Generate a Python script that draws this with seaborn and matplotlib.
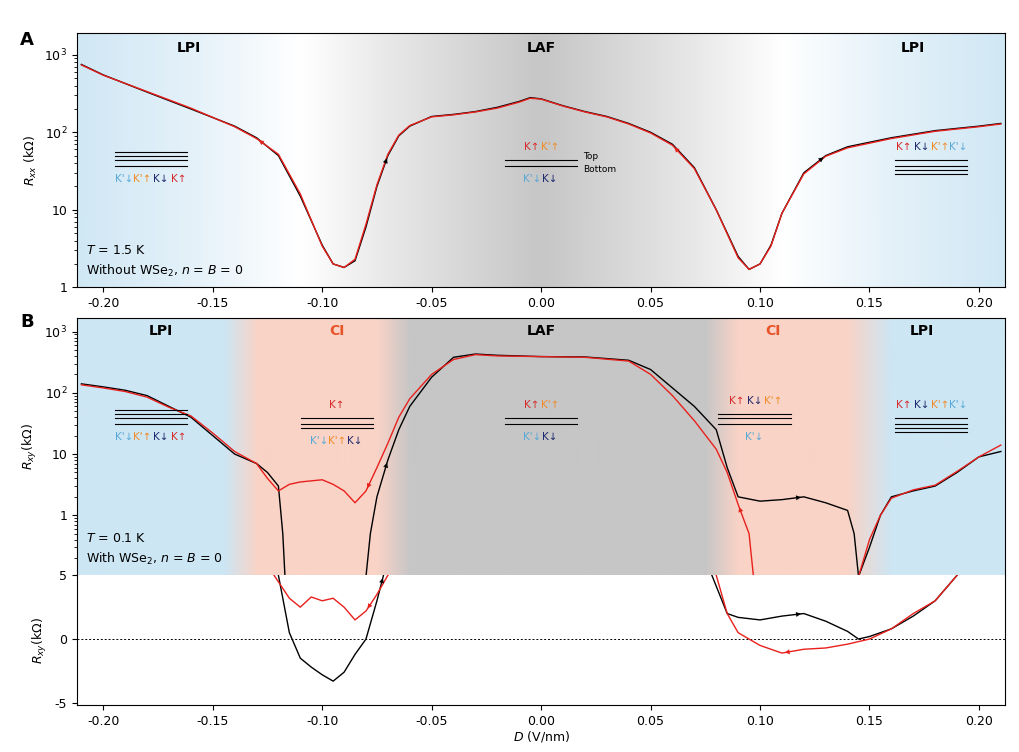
import numpy as np
import pandas as pd
import matplotlib
matplotlib.use("Agg")
import matplotlib.pyplot as plt
import seaborn as sns
from matplotlib.colors import to_rgb

# ---------------- data ----------------
a_D = [-0.21,-0.20,-0.18,-0.16,-0.14,-0.13,-0.12,-0.11,-0.10,-0.095,-0.09,-0.085,-0.08,-0.075,-0.07,-0.065,-0.06,-0.05,-0.04,-0.03,-0.02,-0.01,-0.005,0.0,0.01,0.02,0.03,0.04,0.05,0.06,0.07,0.08,0.09,0.095,0.10,0.105,0.11,0.12,0.13,0.14,0.16,0.18,0.20,0.21]
a_black = [750,550,330,200,120,85,50,15,3.5,2.0,1.8,2.2,6,20,50,90,120,160,170,185,210,250,280,270,220,185,160,130,100,70,35,10,2.5,1.7,2.0,3.5,9,30,50,65,85,105,120,130]
a_red = [740,545,335,205,118,83,52,16,3.4,2.0,1.8,2.3,6.5,21,52,92,122,158,168,183,205,245,275,268,218,183,158,128,98,68,34,10,2.4,1.7,2.0,3.4,9,29,49,63,83,103,118,128]

b_D_left_black = [-0.21,-0.20,-0.19,-0.18,-0.17,-0.16,-0.15,-0.14,-0.13,-0.125,-0.12,-0.118,-0.117]
b_left_black = [140,125,110,90,60,40,20,10,7,5,3,0.5,0.1]
b_D_left_red = [-0.21,-0.20,-0.19,-0.18,-0.17,-0.16,-0.15,-0.14,-0.13,-0.125,-0.12,-0.115,-0.11,-0.10,-0.095,-0.09,-0.085,-0.08,-0.075,-0.07,-0.065,-0.06,-0.05,-0.04,-0.03,-0.02,0.0,0.02,0.04,0.05,0.06,0.07,0.08,0.085,0.09,0.095,0.097]
b_left_red = [135,120,105,85,58,42,22,11,7,4,2.5,3.2,3.5,3.8,3.2,2.5,1.6,2.5,6,15,40,80,200,350,420,400,390,380,330,200,90,35,12,5,1.5,0.5,0.1]
b_D_mid_black = [-0.08,-0.078,-0.075,-0.07,-0.065,-0.06,-0.05,-0.04,-0.03,-0.02,0.0,0.02,0.04,0.05,0.06,0.07,0.08,0.085,0.09,0.10,0.11,0.12,0.13,0.14,0.143,0.145,0.15,0.155,0.16,0.17,0.18,0.19,0.20,0.21]
b_mid_black = [0.1,0.5,2.0,8,25,60,180,380,430,410,390,385,340,240,120,60,25,6,2.0,1.7,1.8,2.0,1.6,1.2,0.5,0.1,0.3,1.0,2.0,2.5,3.0,5,9,11]
b_D_right_red = [0.145,0.15,0.155,0.16,0.17,0.18,0.19,0.20,0.21]
b_right_red = [0.1,0.4,1.0,1.9,2.6,3.1,5.2,9,14]

c_D_left_black = [-0.12,-0.115,-0.11,-0.105,-0.10,-0.095,-0.09,-0.085,-0.08,-0.075,-0.072]
c_left_black = [5,0.5,-1.5,-2.2,-2.8,-3.3,-2.6,-1.2,0,3,5]
c_D_left_red = [-0.122,-0.115,-0.11,-0.105,-0.10,-0.095,-0.09,-0.085,-0.08,-0.075,-0.07]
c_left_red = [5,3.2,2.5,3.3,3.0,3.2,2.5,1.5,2.2,3.5,5]
c_D_right_black = [0.078,0.085,0.09,0.10,0.11,0.12,0.13,0.14,0.145,0.15,0.16,0.17,0.18,0.19]
c_right_black = [5,2.0,1.7,1.5,1.8,2.0,1.4,0.6,0.0,0.2,0.8,1.8,3.0,5]
c_D_right_red = [0.08,0.085,0.09,0.10,0.11,0.12,0.13,0.14,0.15,0.16,0.17,0.18,0.19]
c_right_red = [5,2.0,0.5,-0.5,-1.1,-0.8,-0.7,-0.4,0.0,0.8,2.0,3.0,5]

xticks = [-0.20,-0.15,-0.10,-0.05,0.00,0.05,0.10,0.15,0.20]
xticklabels = ["-0.20","-0.15","-0.10","-0.05","0.00","0.05","0.10","0.15","0.20"]

KUP, KPUP, KDN, KPDN = "#d62b2b", "#f08c2a", "#1f2a6e", "#5aa9d6"
BLUE, WHITE, GREY, PINK = "#cde6f4", "#ffffff", "#c6c6c6", "#f9d3c6"
XL = (-0.212, 0.212)

fig = plt.figure(figsize=(10.2, 7.52), dpi=100)
axA = fig.add_axes([0.0755, 0.618, 0.910, 0.338])
axB = fig.add_axes([0.0755, 0.235, 0.910, 0.342])
axC = fig.add_axes([0.0755, 0.062, 0.910, 0.173])

def grad(ax, pts, ylo, yhi):
    xs = np.linspace(XL[0], XL[1], 600)
    P = [p for p, c in pts]
    cols = np.array([to_rgb(c) for p, c in pts])
    img = np.stack([np.interp(xs, P, cols[:, k]) for k in range(3)], axis=-1)[None]
    ax.imshow(img, extent=[XL[0], XL[1], ylo, yhi], aspect="auto", zorder=0)

gA = [(-0.22,BLUE),(-0.16,"#e4f1f9"),(-0.11,WHITE),(-0.07,"#e8e8e8"),(0,GREY),(0.07,"#e8e8e8"),(0.11,WHITE),(0.16,"#e4f1f9"),(0.22,BLUE)]
gB = [(-0.22,BLUE),(-0.145,BLUE),(-0.13,PINK),(-0.075,PINK),(-0.06,GREY),(0.075,GREY),(0.09,PINK),(0.14,PINK),(0.16,BLUE),(0.22,BLUE)]

def line(ax, x, y, c):
    sns.lineplot(x=x, y=y, ax=ax, color=c, lw=1.0, sort=False, estimator=None)

def arrow(ax, x, y, i, c, rev=False):
    j, k = (i + 1, i) if rev else (i, i + 1)
    ax.annotate("", xy=(x[k], y[k]), xytext=(x[j], y[j]),
                arrowprops=dict(arrowstyle="-|>", color=c, lw=0, mutation_scale=9))

axA.set_yscale("log"); axA.set_ylim(1, 10**3.28); axA.set_xlim(*XL)
grad(axA, gA, 1, 10**3.28)
line(axA, a_D, a_black, "black"); line(axA, a_D, a_red, "#e8201c")
arrow(axA, a_D, a_black, 13, "black"); arrow(axA, a_D, a_black, 37, "black")
arrow(axA, a_D, a_red, 5, "#e8201c", rev=True); arrow(axA, a_D, a_red, 29, "#e8201c", rev=True)

axB.set_yscale("log"); axB.set_ylim(10**-0.98, 10**3.22); axB.set_xlim(*XL)
grad(axB, gB, 10**-0.98, 10**3.22)
line(axB, b_D_left_black, b_left_black, "black"); line(axB, b_D_mid_black, b_mid_black, "black")
line(axB, b_D_left_red, b_left_red, "#e8201c"); line(axB, b_D_right_red, b_right_red, "#e8201c")
arrow(axB, b_D_mid_black, b_mid_black, 2, "black"); arrow(axB, b_D_mid_black, b_mid_black, 20, "black")
arrow(axB, b_D_left_red, b_left_red, 17, "#e8201c", rev=True); arrow(axB, b_D_left_red, b_left_red, 34, "#e8201c", rev=True)

axC.set_ylim(-5.2, 5); axC.set_xlim(*XL)
axC.axhline(0, color="black", ls=(0,(2,2)), lw=0.7)
line(axC, c_D_left_black, c_left_black, "black"); line(axC, c_D_right_black, c_right_black, "black")
line(axC, c_D_left_red, c_left_red, "#e8201c"); line(axC, c_D_right_red, c_right_red, "#e8201c")
arrow(axC, c_D_left_black, c_left_black, 9, "black"); arrow(axC, c_D_right_black, c_right_black, 4, "black")
arrow(axC, c_D_left_red, c_left_red, 8, "#e8201c", rev=True); arrow(axC, c_D_right_red, c_right_red, 4, "#e8201c", rev=True)

for ax in (axA, axB, axC):
    ax.set_xticks(xticks); ax.tick_params(labelsize=9, direction="out")
    ax.set_xlabel(""); ax.set_ylabel("")
axA.set_xticklabels(xticklabels); axB.set_xticklabels([]); axB.tick_params(axis="x", length=0)
axC.set_xticklabels(xticklabels)
axA.set_yticks([1,10,100,1000]); axA.set_yticklabels(["1","10","10$^2$","10$^3$"])
axB.set_yticks([1,10,100,1000]); axB.set_yticklabels(["1","10","10$^2$","10$^3$"])
axB.spines["bottom"].set_visible(False); axC.spines["top"].set_visible(False)
axC.set_yticks([-5,0,5]); axC.set_yticklabels(["-5","0","5"])
axC.set_xlabel("$D$ (V/nm)", fontsize=9, labelpad=1)
axA.set_ylabel("$R_{xx}$ (k$\\Omega$)", fontsize=9)
axB.set_ylabel("$R_{xy}$(k$\\Omega$)", fontsize=9)
axC.set_ylabel("$R_{xy}$(k$\\Omega$)", fontsize=9)
fig.text(0.02, 0.94, "A", fontsize=13, weight="bold")
fig.text(0.02, 0.565, "B", fontsize=13, weight="bold")

def label(ax, x, y, s, c="black"):
    ax.text(x, y, s, transform=ax.transAxes, ha="center", va="center", weight="bold", color=c, fontsize=10)
label(axA, 0.12, 0.94, "LPI"); label(axA, 0.5, 0.94, "LAF"); label(axA, 0.9, 0.94, "LPI")
label(axB, 0.09, 0.95, "LPI"); label(axB, 0.28, 0.95, "CI", "#e8542a"); label(axB, 0.5, 0.95, "LAF")
label(axB, 0.75, 0.95, "CI", "#e8542a"); label(axB, 0.91, 0.95, "LPI")

def diagram(ax, xc, yc, top, bottom, nlines_top, nlines_bot, w=0.078):
    t = ax.transAxes
    for i in range(nlines_top):
        ax.plot([xc-w/2, xc+w/2], [yc+0.012+i*0.016]*2, transform=t, color="black", lw=0.8)
    for i in range(nlines_bot):
        ax.plot([xc-w/2, xc+w/2], [yc-0.012-i*0.016]*2, transform=t, color="black", lw=0.8)
    def row(items, y):
        n = len(items); sp = 0.0195
        for j, (s, c) in enumerate(items):
            ax.text(xc + (j-(n-1)/2)*sp, y, s, transform=t, color=c, ha="center", va="center", fontsize=7.5)
    if top: row(top, yc+0.012+nlines_top*0.016+0.035)
    if bottom: row(bottom, yc-0.012-nlines_bot*0.016-0.035)

K = lambda s, c: (s, c)
diagram(axA, 0.08, 0.49, [], [K("K'↓",KPDN),K("K'↑",KPUP),K("K↓",KDN),K("K↑",KUP)], 3, 1)
diagram(axA, 0.5, 0.49, [K("K↑",KUP),K("K'↑",KPUP)], [K("K'↓",KPDN),K("K↓",KDN)], 1, 1)
axA.text(0.545, 0.515, "Top", transform=axA.transAxes, fontsize=6.5, va="center")
axA.text(0.545, 0.465, "Bottom", transform=axA.transAxes, fontsize=6.5, va="center")
diagram(axA, 0.92, 0.49, [K("K↑",KUP),K("K↓",KDN),K("K'↑",KPUP),K("K'↓",KPDN)], [], 1, 3)
diagram(axB, 0.08, 0.60, [], [K("K'↓",KPDN),K("K'↑",KPUP),K("K↓",KDN),K("K↑",KUP)], 3, 1)
diagram(axB, 0.28, 0.60, [K("K↑",KUP)], [K("K'↓",KPDN),K("K'↑",KPUP),K("K↓",KDN)], 1, 2)
diagram(axB, 0.5, 0.60, [K("K↑",KUP),K("K'↑",KPUP)], [K("K'↓",KPDN),K("K↓",KDN)], 1, 1)
diagram(axB, 0.73, 0.60, [K("K↑",KUP),K("K↓",KDN),K("K'↑",KPUP)], [K("K'↓",KPDN)], 2, 1)
diagram(axB, 0.92, 0.60, [K("K↑",KUP),K("K↓",KDN),K("K'↑",KPUP),K("K'↓",KPDN)], [], 1, 3)

axA.text(0.01, 0.13, "$T$ = 1.5 K", transform=axA.transAxes, fontsize=9)
axA.text(0.01, 0.05, "Without WSe$_2$, $n$ = $B$ = 0", transform=axA.transAxes, fontsize=9)
axB.text(0.01, 0.13, "$T$ = 0.1 K", transform=axB.transAxes, fontsize=9)
axB.text(0.01, 0.05, "With WSe$_2$, $n$ = $B$ = 0", transform=axB.transAxes, fontsize=9)

fig.savefig("out.png", dpi=100)
